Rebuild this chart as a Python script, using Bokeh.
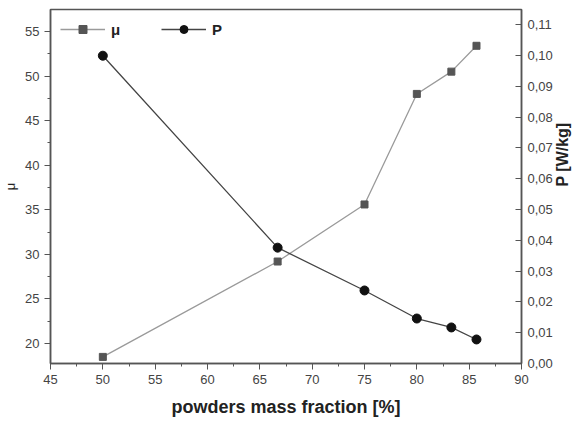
import math
from bokeh.plotting import figure
from bokeh.models import Range1d, LinearAxis, SingleIntervalTicker, CustomJSTickFormatter
from bokeh.embed import file_html
from bokeh.resources import INLINE

fraction = [50.0, 66.7, 75.0, 80.0, 83.3, 85.7]
mu = [18.5, 29.2, 35.6, 48.0, 50.5, 53.4]
power = [0.0999, 0.0376, 0.0237, 0.0146, 0.0117, 0.0078]

p = figure(width=582, height=421, output_backend="svg", toolbar_location=None,
           x_range=Range1d(45, 90), y_range=Range1d(17.76, 57.47),
           min_border_left=48, min_border_right=59, min_border_top=9, min_border_bottom=58)
p.extra_y_ranges = {"pw": Range1d(0, 0.1149)}

p.grid.visible = False
p.outline_line_color = "#555555"
p.outline_line_width = 1.5
p.background_fill_color = "white"
p.border_fill_color = "white"

FONT = "Liberation Sans"

# x axis
xa = p.xaxis[0]
xa.ticker = SingleIntervalTicker(interval=5, num_minor_ticks=2)
xa.axis_label = "powders mass fraction [%]"

# left axis
ya = p.yaxis[0]
ya.ticker = SingleIntervalTicker(interval=5, num_minor_ticks=2)
ya.axis_label = "μ"

ra = LinearAxis(y_range_name="pw", axis_label="P [W/kg]",
                ticker=SingleIntervalTicker(interval=0.01, num_minor_ticks=0),
                formatter=CustomJSTickFormatter(code="return tick.toFixed(2).replace('.', ',');"))
p.add_layout(ra, "right")
ra.major_tick_in = 6
ra.major_tick_out = 0
ra.minor_tick_in = 0
ra.minor_tick_out = 0

for ax in (xa, ya, ra):
    ax.axis_line_color = "#555555"
    ax.axis_line_width = 1.5
    ax.major_tick_line_color = "#555555"
    ax.minor_tick_line_color = "#555555"
    ax.major_label_text_font = FONT
    ax.major_label_text_font_size = "13px"
    ax.major_label_text_color = "#444444"
    ax.axis_label_text_font = FONT
    ax.axis_label_text_font_style = "bold"
    ax.axis_label_text_color = "#222222"

xa.major_tick_out = 6
xa.major_tick_in = 0
xa.minor_tick_out = 3
xa.minor_tick_in = 0
xa.axis_label_text_font_size = "18px"
xa.axis_label_standoff = 10
ya.major_tick_out = 6
ya.major_tick_in = 0
ya.minor_tick_out = 3
ya.minor_tick_in = 0
ya.axis_label_text_font_style = "normal"
ya.axis_label_text_font_size = "13px"
ya.axis_label_standoff = 4
ra.major_label_standoff = 6
ra.axis_label_text_font_size = "16px"
ra.axis_label_standoff = 7
ra.axis_label_orientation = math.pi / 2

# series
p.line(fraction, mu, line_color="#9a9a9a", line_width=1.3, legend_label="μ")
p.scatter(fraction, mu, marker="square", size=7, fill_color="#555555",
          line_color="#555555", legend_label="μ")
p.line(fraction, power, y_range_name="pw", line_color="#444444", line_width=1.3, legend_label="P")
p.scatter(fraction, power, y_range_name="pw", marker="circle", size=9,
          fill_color="#111111", line_color="#111111", legend_label="P")

lg = p.legend[0]
lg.location = "top_left"
lg.orientation = "horizontal"
lg.margin = 0
lg.padding = 10
lg.spacing = 30
lg.glyph_width = 45
lg.glyph_height = 20
lg.label_height = 20
lg.label_standoff = 6
lg.label_text_font = FONT
lg.label_text_font_size = "15px"
lg.label_text_font_style = "bold"
lg.label_text_color = "#222222"
lg.background_fill_alpha = 0
lg.border_line_alpha = 0

open("out.html", "w").write(file_html(p, INLINE))
